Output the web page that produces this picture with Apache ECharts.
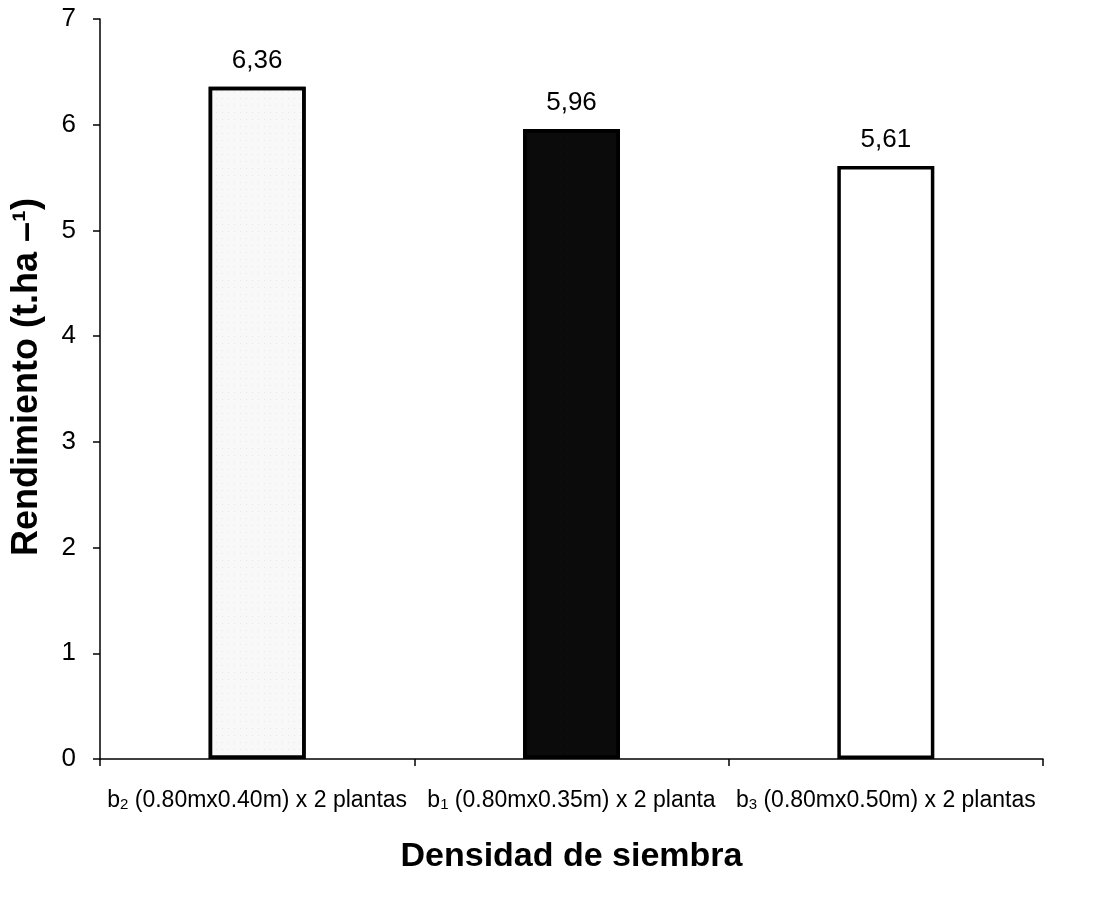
<!DOCTYPE html>
<html>
<head>
<meta charset="utf-8">
<script src="https://cdn.jsdelivr.net/npm/echarts@6/dist/echarts.min.js"></script>
<style>
  html, body { margin: 0; padding: 0; background: #fff; }
  #chart { width: 1100px; height: 908px; }
</style>
</head>
<body>
<div id="chart"></div>
<script>
// Planting density treatments and their yield (t/ha)
const treatments = ['b2', 'b1', 'b3'];
const spacings = ['(0.80mx0.40m) x 2 plantas', '(0.80mx0.35m) x 2 planta', '(0.80mx0.50m) x 2 plantas'];
const yields = [6.36, 5.96, 5.61];
const yTicks = [0, 1, 2, 3, 4, 5, 6, 7];

const categories = treatments.map((t, i) => t + '|' + spacings[i]);

const font = 'Liberation Sans, Arial, sans-serif';

const barStyles = [
  { color: '#f8f8f8', borderColor: '#000', borderWidth: 3.5,
    decal: { symbol: 'rect', symbolSize: 0.6, color: 'rgba(110,110,110,0.45)',
             dashArrayX: [1, 5], dashArrayY: [1, 6], rotation: 0 } },
  { color: '#0b0b0b', borderColor: '#000', borderWidth: 3.5,
    decal: { symbol: 'rect', symbolSize: 0.5, color: 'rgba(200,200,200,0.12)',
             dashArrayX: [1, 6], dashArrayY: [1, 7], rotation: 0 } },
  { color: '#ffffff', borderColor: '#000', borderWidth: 3.5 }
];

const chart = echarts.init(document.getElementById('chart'), null, { renderer: 'canvas' });

chart.setOption({
  backgroundColor: '#fff',
  animation: false,
  textStyle: { fontFamily: font, color: '#000' },
  grid: { left: 100, right: 57, top: 19, bottom: 149 },
  xAxis: {
    type: 'category',
    data: categories,
    name: 'Densidad de siembra',
    nameLocation: 'middle',
    nameGap: 81,
    nameTextStyle: { fontSize: 34, fontWeight: 'bold', fontFamily: font, color: '#000' },
    axisLine: { lineStyle: { color: '#000', width: 1.5 } },
    axisTick: { show: true, length: 7, alignWithLabel: false, lineStyle: { color: '#000', width: 1.5 } },
    axisLabel: {
      margin: 30,
      interval: 0,
      color: '#000',
      formatter: function (v) {
        const parts = v.split('|');
        return '{main|b}{sub|' + parts[0].slice(1) + '}{main| ' + parts[1] + '}';
      },
      rich: {
        main: { fontSize: 23, fontFamily: font, color: '#000' },
        sub: { fontSize: 15, fontFamily: font, color: '#000', padding: [8, 0, 0, 0] }
      },
      fontSize: 23,
      fontFamily: font
    }
  },
  yAxis: {
    type: 'value',
    min: 0,
    max: 7,
    interval: 1,
    name: 'Rendimiento (t.ha –¹)',
    nameLocation: 'middle',
    nameGap: 55,
    nameTextStyle: { fontSize: 36, fontWeight: 'bold', fontFamily: font, color: '#000',
                     padding: [0, 0, 0, 24] },
    axisLine: { show: true, lineStyle: { color: '#000', width: 1.5 } },
    axisTick: { show: true, length: 7, lineStyle: { color: '#000', width: 1.5 } },
    axisLabel: {
      margin: 24,
      fontSize: 26,
      fontFamily: font,
      color: '#000',
      formatter: function (v) { return yTicks.includes(v) ? String(v) : ''; }
    },
    splitLine: { show: false }
  },
  series: [{
    type: 'bar',
    barWidth: 97,
    data: yields.map((v, i) => ({ value: v, itemStyle: barStyles[i] })),
    label: {
      show: true,
      position: 'top',
      distance: 13,
      fontSize: 26,
      fontFamily: font,
      color: '#000',
      formatter: function (p) { return p.value.toFixed(2).replace('.', ','); }
    }
  }]
});
</script>
</body>
</html>
